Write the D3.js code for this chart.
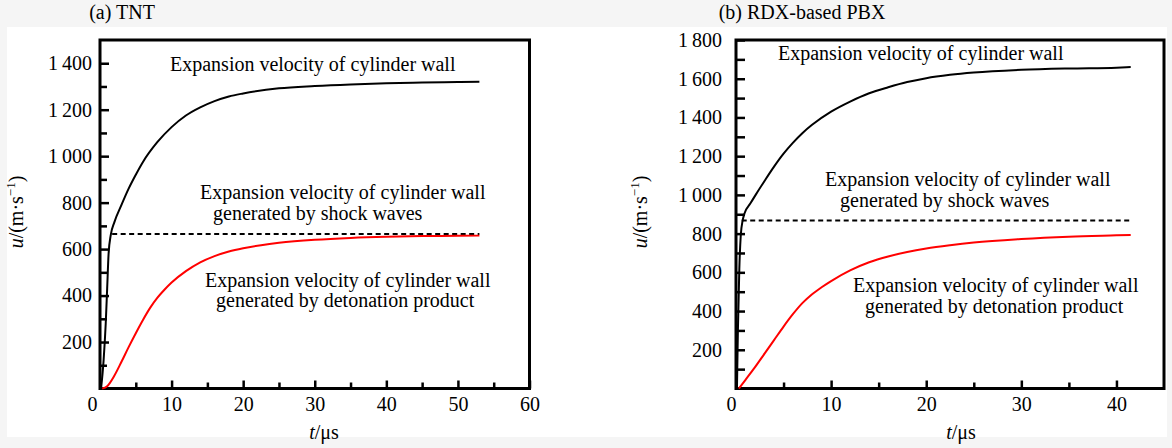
<!DOCTYPE html>
<html>
<head>
<meta charset="utf-8">
<script src="https://cdn.jsdelivr.net/npm/d3@7"></script>
<style>
  body { margin: 0; background: #f5f5f5; }
  svg { display: block; }
  svg text { font-family: "Liberation Serif", "Times New Roman", serif; }
</style>
</head>
<body>
<svg id="chart" width="1172" height="448"></svg>
<script>
// ---- (a) TNT ----
const tntWallT = [0.15, 0.5, 0.8, 1.0, 1.2, 1.5, 2.0, 3.0, 4.0, 5.0, 6.0, 8.0, 10, 12, 14, 16, 18, 20, 25, 30, 35, 40, 45, 50, 53]
const tntWallU = [0, 120, 280, 430, 580, 660, 715, 790, 860, 920, 975, 1060, 1125, 1175, 1210, 1237, 1257, 1270, 1292, 1302, 1309, 1314, 1317, 1319, 1320]
const tntProductT = [0.3, 1, 2, 3, 4, 5, 6, 7, 8, 9, 10, 12, 14, 16, 18, 20, 22.5, 25, 30, 35, 40, 45, 50, 53]
const tntProductU = [0, 10, 55, 115, 178, 238, 295, 347, 390, 425, 456, 505, 543, 570, 590, 604, 617, 627, 640, 648, 653, 656, 657, 658]
const tntShockT = [1.7, 53]
const tntShockU = [665, 665]
const tntXTicks = [0, 10, 20, 30, 40, 50, 60]
const tntYTicks = [200, 400, 600, 800, 1000, 1200, 1400]

// ---- (b) RDX-based PBX ----
const rdxWallT = [0.1, 0.2, 0.35, 0.5, 0.7, 0.9, 1.5, 2, 3, 4, 5, 6, 7, 8, 10, 12, 14, 16, 18, 20, 22.5, 25, 30, 35, 40, 41.5]
const rdxWallU = [0, 300, 620, 790, 868, 905, 955, 995, 1072, 1146, 1213, 1270, 1320, 1362, 1430, 1482, 1525, 1556, 1583, 1603, 1620, 1632, 1646, 1653, 1657, 1660]
const rdxProductT = [0.3, 1, 2, 3, 4, 5, 6, 7, 8, 9, 10, 12, 14, 16, 18, 20, 22.5, 25, 30, 35, 40, 41.5]
const rdxProductU = [0, 45, 110, 180, 250, 320, 385, 442, 487, 523, 555, 610, 652, 682, 705, 723, 740, 754, 772, 784, 791, 793]
const rdxShockT = [0.6, 41.5]
const rdxShockU = [868, 868]
const rdxXTicks = [0, 10, 20, 30, 40]
const rdxYTicks = [200, 400, 600, 800, 1000, 1200, 1400, 1600, 1800]

// annotation text
const wallNote = ['Expansion velocity of cylinder wall']
const shockNote = ['Expansion velocity of cylinder wall', 'generated by shock waves']
const productNote = ['Expansion velocity of cylinder wall', 'generated by detonation product']

const serif = '"Liberation Serif", "Times New Roman", serif'
const fmt = d3.formatLocale({decimal: '.', thousands: '\u2009', grouping: [3], currency: ['', '']}).format(',')

const svg = d3.select('#chart')

// faint scan background
svg.append('rect').attr('x', 7).attr('y', 27).attr('width', 1160).attr('height', 410).attr('fill', '#fff')

function drawPanel(p) {
    const x = d3.scaleLinear().domain([0, p.xMax]).range([p.left, p.right])
    const y = d3.scaleLinear().domain([0, p.yMax]).range([p.bottom, p.top])

    // minor ticks
    const xMinor = d3.range(5, p.xMax, 10)
    const yMinor = d3.range(100, p.yMax, 200)

    svg.append('g')
        .attr('transform', `translate(0, ${p.bottom})`)
        .call(d3.axisBottom(x).tickValues(xMinor).tickSize(-6).tickFormat(''))
        .call(g => g.select('.domain').remove())
        .selectAll('line').attr('stroke', '#000').attr('stroke-width', 2.5)

    svg.append('g')
        .attr('transform', `translate(${p.left}, 0)`)
        .call(d3.axisLeft(y).tickValues(yMinor).tickSize(-p.yMinorLen).tickFormat(''))
        .call(g => g.select('.domain').remove())
        .selectAll('line').attr('stroke', '#000').attr('stroke-width', 2.5)

    // major ticks + labels
    const bottomAxis = svg.append('g')
        .attr('transform', `translate(0, ${p.bottom})`)
        .call(d3.axisBottom(x).tickValues(p.xTicks).tickSize(-8).tickPadding(8).tickFormat(d3.format('d')))
        .call(g => g.select('.domain').remove())
    bottomAxis.attr('font-family', serif).attr('font-size', 20)
    bottomAxis.selectAll('line').attr('stroke', '#000').attr('stroke-width', 2.5)
    bottomAxis.selectAll('text').attr('fill', '#000')
        .attr('dx', d => d === 0 ? p.zeroShift : 0)

    const leftAxis = svg.append('g')
        .attr('transform', `translate(${p.left}, 0)`)
        .call(d3.axisLeft(y).tickValues(p.yTicks).tickSize(-9).tickPadding(p.yPad).tickFormat(fmt))
        .call(g => g.select('.domain').remove())
    leftAxis.attr('font-family', serif).attr('font-size', 20)
    leftAxis.selectAll('line').attr('stroke', '#000').attr('stroke-width', 2.5)
    leftAxis.selectAll('text').attr('fill', '#000')

    // frame
    svg.append('rect')
        .attr('x', p.left).attr('y', p.top)
        .attr('width', p.right - p.left).attr('height', p.bottom - p.top)
        .attr('fill', 'none').attr('stroke', '#000').attr('stroke-width', 3)

    const line = d3.line()
        .x(d => x(d[0]))
        .y(d => y(d[1]))
        .curve(d3.curveMonotoneX)

    svg.append('path')
        .datum(d3.zip(p.shockT, p.shockU))
        .attr('d', line)
        .attr('fill', 'none').attr('stroke', '#000').attr('stroke-width', 2)
        .attr('stroke-dasharray', '5,3.5')

    svg.append('path')
        .datum(d3.zip(p.productT, p.productU))
        .attr('d', line)
        .attr('fill', 'none').attr('stroke', '#f00').attr('stroke-width', 2)

    svg.append('path')
        .datum(d3.zip(p.wallT, p.wallU))
        .attr('d', line)
        .attr('fill', 'none').attr('stroke', '#000').attr('stroke-width', 2)

    // notes
    const notes = [[wallNote, p.wallNote], [shockNote, p.shockNote], [productNote, p.productNote]]
    notes.forEach(([lines, pos]) => {
        lines.forEach((s, i) => {
            svg.append('text')
                .attr('x', pos[i][0]).attr('y', pos[i][1])
                .attr('font-family', serif).attr('font-size', 20)
                .text(s)
        })
    })

    // title
    svg.append('text')
        .attr('x', p.titleX).attr('y', 19)
        .attr('text-anchor', 'middle')
        .attr('font-family', serif).attr('font-size', 20)
        .text(p.title)

    // x label
    const xl = svg.append('text')
        .attr('x', p.xLabelX).attr('y', 439)
        .attr('text-anchor', 'middle')
        .attr('font-family', serif).attr('font-size', 20)
    xl.append('tspan').attr('font-style', 'italic').text('t')
    xl.append('tspan').text('/\u03bcs')

    // y label
    const yl = svg.append('text')
        .attr('transform', `translate(${p.yLabelX}, 212) rotate(-90)`)
        .attr('text-anchor', 'middle')
        .attr('font-family', serif).attr('font-size', 20)
    yl.append('tspan').attr('font-style', 'italic').text('u')
    yl.append('tspan').text('/(m\u00b7s')
    yl.append('tspan').attr('font-size', 13).attr('dy', -8).text('\u22121')
    yl.append('tspan').attr('dy', 8).text(')')
}

drawPanel({
    title: '(a) TNT', titleX: 122,
    left: 100, right: 529.5, top: 40, bottom: 388.5,
    xMax: 60, yMax: 1500, xTicks: tntXTicks, yTicks: tntYTicks,
    yPad: 8, yMinorLen: 7, zeroShift: -8,
    xLabelX: 324, yLabelX: 23,
    wallT: tntWallT, wallU: tntWallU,
    productT: tntProductT, productU: tntProductU,
    shockT: tntShockT, shockU: tntShockU,
    wallNote: [[170, 71]],
    shockNote: [[200, 199], [213, 219.5]],
    productNote: [[205, 287], [216, 307]]
})

drawPanel({
    title: '(b) RDX-based PBX', titleX: 802,
    left: 736, right: 1164, top: 40, bottom: 388.5,
    xMax: 45, yMax: 1800, xTicks: rdxXTicks, yTicks: rdxYTicks,
    yPad: 14, yMinorLen: 9, zeroShift: -5,
    xLabelX: 961, yLabelX: 647,
    wallT: rdxWallT, wallU: rdxWallU,
    productT: rdxProductT, productU: rdxProductU,
    shockT: rdxShockT, shockU: rdxShockU,
    wallNote: [[778, 60]],
    shockNote: [[825, 186], [840, 207]],
    productNote: [[853, 292], [865, 313]]
})
</script>
</body>
</html>
